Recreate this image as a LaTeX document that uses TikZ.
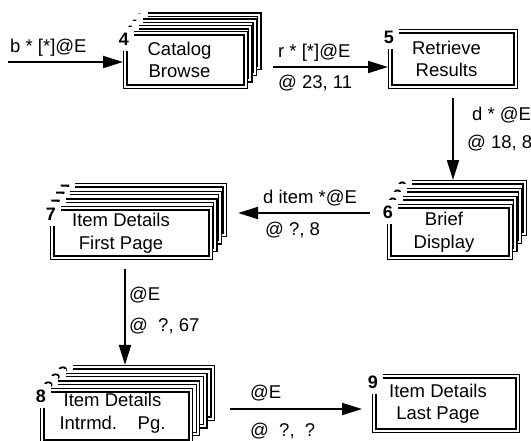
\documentclass[tikz,border=0pt]{standalone}
\usepackage{fontspec}
\setmainfont{Liberation Sans}
\usetikzlibrary{arrows.meta, calc}

\tikzset{
  every picture/.style={font=\fontsize{18.5}{22.5}\selectfont},
  hoja/.style={draw, double, line width=1.4pt, double distance=2pt, fill=white,
               inner sep=0pt, outer sep=2.4pt},
  numero/.style={fill=white, inner sep=0pt, minimum width=20pt, minimum height=24pt,
                 font=\fontsize{18}{22}\selectfont\bfseries},
  texto/.style={align=center, inner sep=0pt},
  etiq/.style={anchor=base west, inner sep=0pt},
  flecha/.style={-{Triangle[length=20pt, width=12pt]}, line width=2pt},
}

\begin{document}
\begin{tikzpicture}[x=1pt, y=-1pt]
  \useasboundingbox (0,0) rectangle (531,440);
  \clip (0,0) rectangle (531,440);
  % estados: capas de atras hacia delante
  \foreach \n/\cx/\cy/\w/\h/\dx/\dy/\capas in {
      4/185.5/60/125/58/4.6/-6.3/3, 5/453/59/130/60/0/0/0,
      6/450/232/126/56/4.7/-8/3, 7/131.5/233/163/54/4.7/-7.7/3,
      8/116.5/416/153/56/7.3/-7.7/3, 9/446/403.5/148/59/0/0/0} {
    \foreach \k in {0,...,\capas} {
      \pgfmathtruncatemacro{\j}{\capas-\k}
      \node[hoja, minimum width=(\w-4.8)*1pt, minimum height=(\h-4.8)*1pt]
        (n\n-\j) at ({\cx+\j*\dx}, {\cy+\j*\dy}) {};
      \node[numero] (k\n-\j) at ($(n\n-\j.north west)+(1,8)$) {\n};
    }
  }
  \node[texto] (t4) at ($(n4-0)+(-6,0)$) {Catalog\\Browse};
  \node[texto] (t5) at ($(n5-0)+(-6.5,0)$) {Retrieve\\Results};
  \node[texto] (t6) at ($(n6-0)+(-6,0)$) {Brief\\Display};
  \node[texto] (t7) at ($(n7-0)+(-10.5,0)$) {Item Details\\First Page};
  \node[texto] (t8) at ($(n8-0)+(-4,-3)$) {Item Details\\Intrmd.\ \ \ \ Pg.};
  \node[texto] (t9) at ($(n9-0)+(-8,0)$) {Item Details\\Last Page};

  % transiciones
  \coordinate (e4) at (8,62);
  \draw[flecha] (e4) -- (e4 -| n4-0.west);
  \node[etiq] (l1) at (10,52.5) {b * [*]@E};

  \draw[flecha, shorten <=11pt] (n4-3.east |- 0,67) -- (n5-0.west |- 0,67);
  \node[etiq] (l2a) at (278,57.5) {r * [*]@E};
  \node[etiq] (l2b) at (278,88) {@ 23, 11};

  \draw[flecha, shorten <=9pt] (n5-0.south) -- (n5-0.south |- n6-3.north);
  \node[etiq] (l3a) at (472,120) {d * @E};
  \node[etiq] (l3b) at (467,148) {@ 18, 8};

  \draw[flecha, shorten <=17pt, shorten >=11pt] (n6-0.west |- 0,213) -- (n7-3.east |- 0,213);
  \node[etiq] (l4a) at (263,203) {d item *@E};
  \node[etiq] (l4b) at (265,235) {@ ?, 8};

  \draw[flecha, shorten <=9pt] (n7-0.south -| 125,0) -- (n8-3.north -| 125,0);
  \node[etiq] (l5a) at (129,300) {@E};
  \node[etiq] (l5b) at (129,331) {@\ \ ?, 67};

  \draw[flecha, shorten <=15pt, shorten >=10pt] (n8-3.east |- 0,409) -- (n9-0.west |- 0,409);
  \node[etiq] (l6a) at (250,398) {@E};
  \node[etiq] (l6b) at (250,436) {@\ \ ?,\ \ ?};
\end{tikzpicture}
\end{document}
